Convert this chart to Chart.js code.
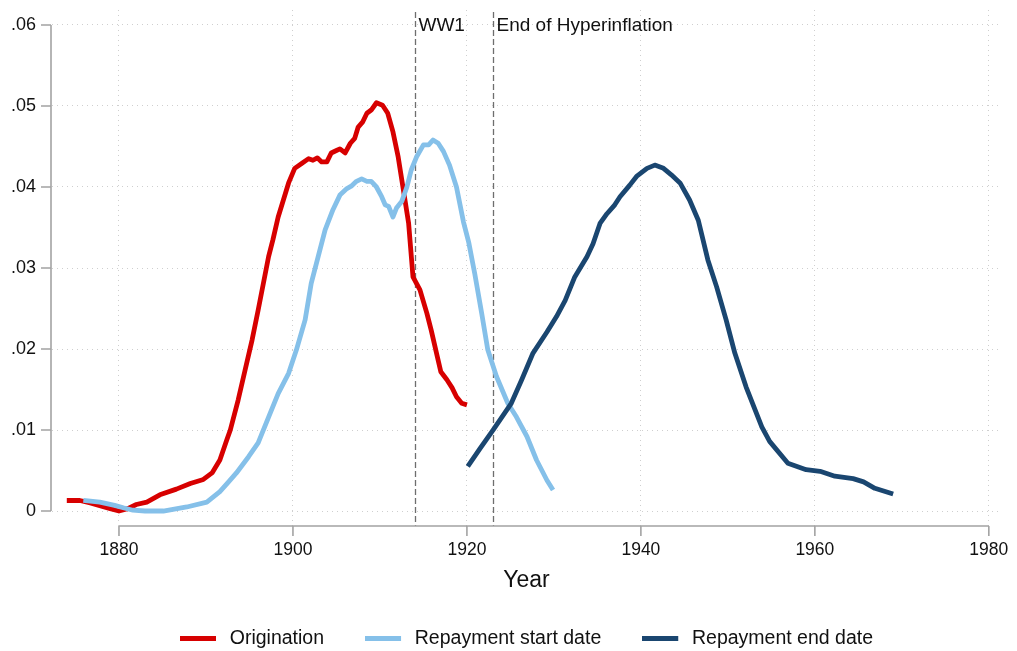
<!DOCTYPE html>
<html>
<head>
<meta charset="utf-8">
<script src="https://cdn.jsdelivr.net/npm/chart.js@4"></script>
<style>
  html, body { margin: 0; padding: 0; background: #fff; }
  #wrap { width: 1017px; height: 651px; }
</style>
</head>
<body>
<div id="wrap"><canvas id="loanchart"></canvas></div>
<script>
// share of loans by year (kernel density style series)
var originationYears = [1874, 1875.5, 1876.7, 1878, 1879, 1880, 1881, 1882, 1883.2, 1884.7, 1886.6, 1888.2, 1889.7, 1890.7, 1891.6, 1892.4, 1892.8, 1893.7, 1894.5, 1895.3, 1896, 1896.6, 1897.2, 1897.7, 1898.3, 1898.9, 1899.5, 1900.2, 1901, 1901.8, 1902.3, 1902.8, 1903.3, 1903.9, 1904.4, 1905, 1905.4, 1906, 1906.6, 1907.1, 1907.5, 1908, 1908.5, 1909, 1909.6, 1910.3, 1910.9, 1911.5, 1912.1, 1912.7, 1913.3, 1913.8, 1914.6, 1915.4, 1915.9, 1916.5, 1917, 1917.7, 1918.3, 1918.8, 1919.4, 1920];
var originationValues = [0.0013, 0.0013, 0.0010, 0.0006, 0.0003, 0.0000, 0.0003, 0.0008, 0.0011, 0.0020, 0.0027, 0.0034, 0.0039, 0.0047, 0.0063, 0.0088, 0.0100, 0.0137, 0.0174, 0.0211, 0.0248, 0.0281, 0.0314, 0.0335, 0.0363, 0.0384, 0.0405, 0.0423, 0.0429, 0.0435, 0.0433, 0.0436, 0.0431, 0.0431, 0.0442, 0.0445, 0.0447, 0.0442, 0.0454, 0.0460, 0.0474, 0.0480, 0.0491, 0.0495, 0.0504, 0.0501, 0.0491, 0.0468, 0.0437, 0.0396, 0.0355, 0.0289, 0.0273, 0.0244, 0.0223, 0.0195, 0.0172, 0.0162, 0.0152, 0.0141, 0.0133, 0.0131];

var startYears = [1875.9, 1877.8, 1879.5, 1880.5, 1881.6, 1883, 1885.1, 1887.8, 1890.1, 1891.6, 1892.6, 1893.5, 1894.9, 1896, 1897.2, 1898.3, 1899.5, 1900.4, 1901.4, 1902.1, 1902.9, 1903.7, 1904.6, 1905.4, 1906.2, 1906.7, 1907.3, 1907.9, 1908.5, 1909, 1909.6, 1910.2, 1910.6, 1911, 1911.5, 1911.9, 1912.5, 1913.1, 1913.6, 1914.2, 1915, 1915.6, 1916.1, 1916.7, 1917.3, 1918, 1918.8, 1919.6, 1920.2, 1920.9, 1921.7, 1922.4, 1923.4, 1924.7, 1925.7, 1926.9, 1928, 1929.2, 1929.9];
var startValues = [0.0013, 0.0011, 0.0007, 0.0004, 0.0001, 0.0000, 0.0000, 0.0005, 0.0011, 0.0024, 0.0036, 0.0047, 0.0067, 0.0084, 0.0116, 0.0145, 0.0170, 0.0199, 0.0236, 0.0281, 0.0314, 0.0347, 0.0372, 0.0390, 0.0398, 0.0401, 0.0407, 0.0410, 0.0407, 0.0407, 0.0400, 0.0388, 0.0378, 0.0376, 0.0363, 0.0374, 0.0382, 0.0400, 0.0421, 0.0437, 0.0452, 0.0452, 0.0458, 0.0454, 0.0444, 0.0427, 0.0400, 0.0357, 0.0332, 0.0293, 0.0244, 0.0199, 0.0166, 0.0133, 0.0116, 0.0092, 0.0063, 0.0038, 0.0026];

var endYears = [1920.1, 1921.5, 1923, 1925.1, 1926.3, 1927.6, 1929.2, 1930.3, 1931.3, 1932.4, 1933.8, 1934.5, 1935.3, 1936.1, 1937, 1937.6, 1938.7, 1939.5, 1940.7, 1941.6, 1942.6, 1943.5, 1944.5, 1945.6, 1946.6, 1947.7, 1948.7, 1949.8, 1950.8, 1952.1, 1953.9, 1954.8, 1956.9, 1959, 1960.6, 1962.3, 1964.4, 1965.6, 1966.9, 1969];
var endValues = [0.0055, 0.0077, 0.0100, 0.0133, 0.0162, 0.0195, 0.0221, 0.0240, 0.0260, 0.0289, 0.0314, 0.0330, 0.0355, 0.0367, 0.0378, 0.0388, 0.0402, 0.0413, 0.0423, 0.0427, 0.0423, 0.0415, 0.0405, 0.0384, 0.0359, 0.0310, 0.0277, 0.0236, 0.0195, 0.0153, 0.0104, 0.0086, 0.0059, 0.0051, 0.0049, 0.0043, 0.0040, 0.0036, 0.0028, 0.0021];

var xTicks = [1880, 1900, 1920, 1940, 1960, 1980];
var yTicks = [0, 0.01, 0.02, 0.03, 0.04, 0.05, 0.06];

var eventYears = [1914, 1923];
var eventLabels = ['WW1', 'End of Hyperinflation'];

var FONT = "'Liberation Sans', Arial, sans-serif";

function toPoints(xs, ys) {
    return xs.map(function (x, i) { return { x: x, y: ys[i] }; });
}

// short thick bar used as the legend key (36px line inside a 40px slot)
function legendKey(color) {
    var c = document.createElement('canvas');
    c.width = 40;
    c.height = 5;
    var g = c.getContext('2d');
    g.fillStyle = color;
    g.fillRect(0, 0, 36, 5);
    return c;
}

function series(label, xs, ys, color, order) {
    return {
        label: label,
        data: toPoints(xs, ys),
        borderColor: color,
        backgroundColor: color,
        borderWidth: 4.8,
        pointRadius: 0,
        pointStyle: legendKey(color),
        tension: 0,
        borderJoinStyle: 'round',
        order: order
    };
}

// dashed event lines with their captions, under the curves
var eventLines = {
    id: 'eventLines',
    beforeDatasetsDraw: function (chart) {
        var ctx = chart.ctx, xs = chart.scales.x, area = chart.chartArea;
        ctx.save();
        eventYears.forEach(function (yr, i) {
            var px = Math.round(xs.getPixelForValue(yr)) + 0.5;
            ctx.strokeStyle = '#6e6e6e';
            ctx.lineWidth = 1.3;
            ctx.setLineDash([6, 3]);
            ctx.beginPath();
            ctx.moveTo(px, area.top + 2);
            ctx.lineTo(px, area.bottom);
            ctx.stroke();
            ctx.setLineDash([]);
            ctx.fillStyle = '#111';
            ctx.font = '19px ' + FONT;
            ctx.textAlign = 'left';
            ctx.textBaseline = 'middle';
            ctx.fillText(eventLabels[i], px + 3, 26);
        });
        ctx.restore();
    }
};

// stata-like axis lines that only span the tick range
var axisLines = {
    id: 'axisLines',
    afterDraw: function (chart) {
        var ctx = chart.ctx, xs = chart.scales.x, ys = chart.scales.y, area = chart.chartArea;
        ctx.save();
        ctx.strokeStyle = '#a3a3a3';
        ctx.lineWidth = 1.6;
        var ax = area.left - 1;
        ctx.beginPath();
        ctx.moveTo(ax, ys.getPixelForValue(yTicks[yTicks.length - 1]));
        ctx.lineTo(ax, ys.getPixelForValue(yTicks[0]));
        yTicks.forEach(function (v) {
            var py = ys.getPixelForValue(v);
            ctx.moveTo(ax - 10, py);
            ctx.lineTo(ax, py);
        });
        var ay = area.bottom;
        ctx.moveTo(xs.getPixelForValue(xTicks[0]), ay);
        ctx.lineTo(xs.getPixelForValue(xTicks[xTicks.length - 1]), ay);
        xTicks.forEach(function (v) {
            var px = xs.getPixelForValue(v);
            ctx.moveTo(px, ay);
            ctx.lineTo(px, ay + 10);
        });
        ctx.stroke();
        ctx.restore();
    }
};

Chart.defaults.font.family = FONT;
Chart.defaults.color = '#111';

new Chart(document.getElementById('loanchart'), {
    type: 'line',
    data: {
        datasets: [
            series('Origination', originationYears, originationValues, '#d70000', 3),
            series('Repayment start date', startYears, startValues, '#85c0e9', 2),
            series('Repayment end date', endYears, endValues, '#1a4670', 1)
        ]
    },
    options: {
        responsive: true,
        maintainAspectRatio: false,
        animation: false,
        layout: { padding: { left: 0, right: 16, top: 10, bottom: -7 } },
        scales: {
            x: {
                type: 'linear',
                min: 1872.3,
                max: 1981.4,
                afterBuildTicks: function (scale) {
                    scale.ticks = xTicks.map(function (v) { return { value: v }; });
                },
                afterFit: function (scale) {
                    scale.height = 61.5;
                    scale.paddingLeft = 0;
                    scale.paddingRight = 0;
                },
                ticks: {
                    font: { size: 17.5 },
                    padding: 14,
                    maxRotation: 0,
                    callback: function (v) { return String(v); }
                },
                grid: { color: '#cfcfcf', lineWidth: 1, drawTicks: false },
                border: { display: false, dash: [1, 4] },
                title: {
                    display: true,
                    text: 'Year',
                    font: { size: 23 },
                    padding: { top: 0, bottom: -7 }
                }
            },
            y: {
                min: -0.00185,
                max: 0.06185,
                afterBuildTicks: function (scale) {
                    scale.ticks = yTicks.map(function (v) { return { value: v }; });
                },
                afterFit: function (scale) {
                    scale.width = 52;
                    scale.paddingTop = 0;
                    scale.paddingBottom = 0;
                },
                ticks: {
                    font: { size: 18 },
                    padding: 16,
                    callback: function (v) { return v === 0 ? '0' : v.toFixed(2).slice(1); }
                },
                grid: { color: '#cfcfcf', lineWidth: 1, drawTicks: false },
                border: { display: false, dash: [1, 4] }
            }
        },
        plugins: {
            legend: {
                position: 'bottom',
                fullSize: false,
                labels: {
                    usePointStyle: true,
                    pointStyleWidth: 40,
                    boxHeight: 5,
                    padding: 41,
                    font: { size: 19.5 },
                    sort: function (a, b) { return a.datasetIndex - b.datasetIndex; }
                }
            },
            tooltip: { enabled: false }
        }
    },
    plugins: [eventLines, axisLines]
});
</script>
</body>
</html>
